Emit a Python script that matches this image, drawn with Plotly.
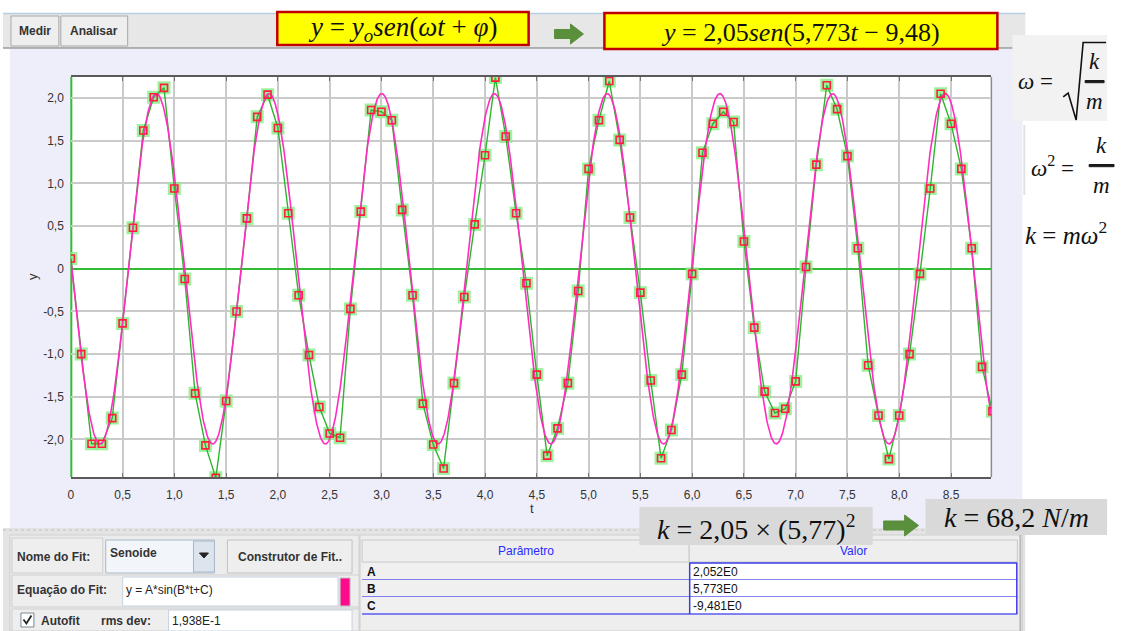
import numpy as np
import plotly.graph_objects as go

W, H = 1137, 631

# ---------------- data ----------------
t_vals = [0.0, 0.1, 0.2, 0.3, 0.4, 0.5, 0.6, 0.7, 0.8, 0.9,
          1.0, 1.1, 1.2, 1.3, 1.4, 1.5, 1.6, 1.7, 1.8, 1.9,
          2.0, 2.1, 2.2, 2.3, 2.4, 2.5, 2.6, 2.7, 2.8, 2.9,
          3.0, 3.1, 3.2, 3.3, 3.4, 3.5, 3.6, 3.7, 3.8, 3.9,
          4.0, 4.1, 4.2, 4.3, 4.4, 4.5, 4.6, 4.7, 4.8, 4.9,
          5.0, 5.1, 5.2, 5.3, 5.4, 5.5, 5.6, 5.7, 5.8, 5.9,
          6.0, 6.1, 6.2, 6.3, 6.4, 6.5, 6.6, 6.7, 6.8, 6.9,
          7.0, 7.1, 7.2, 7.3, 7.4, 7.5, 7.6, 7.7, 7.8, 7.9,
          8.0, 8.1, 8.2, 8.3, 8.4, 8.5, 8.6, 8.7, 8.8, 8.9]
y_vals = [0.12, -1.00, -2.05, -2.05, -1.75, -0.64, 0.48, 1.62, 2.01, 2.12,
          0.94, -0.12, -1.46, -2.07, -2.45, -1.55, -0.50, 0.59, 1.78, 2.04,
          1.65, 0.65, -0.31, -1.01, -1.62, -1.93, -1.98, -0.47, 0.67, 1.86,
          1.84, 1.74, 0.69, -0.31, -1.58, -2.06, -2.34, -1.34, -0.33, 0.52,
          1.33, 2.24, 1.55, 0.65, -0.17, -1.24, -2.19, -1.87, -1.34, -0.26,
          1.17, 1.74, 2.20, 1.51, 0.60, -0.28, -1.31, -2.22, -1.89, -1.24,
          -0.06, 1.36, 1.70, 1.84, 1.72, 0.32, -0.69, -1.44, -1.69, -1.64,
          -1.32, 0.02, 1.22, 2.15, 1.87, 1.32, 0.24, -1.13, -1.72, -2.23,
          -1.72, -1.00, -0.06, 0.94, 2.05, 1.70, 1.17, 0.24, -1.15, -1.67]

fit_A, fit_B, fit_C = 2.052, 5.773, -9.481

x_tick_vals = [0, 0.5, 1.0, 1.5, 2.0, 2.5, 3.0, 3.5, 4.0, 4.5, 5.0, 5.5, 6.0, 6.5, 7.0, 7.5, 8.0, 8.5]
x_tick_text = ["0", "0,5", "1,0", "1,5", "2,0", "2,5", "3,0", "3,5", "4,0", "4,5",
               "5,0", "5,5", "6,0", "6,5", "7,0", "7,5", "8,0", "8,5"]
y_tick_vals = [-2.0, -1.5, -1.0, -0.5, 0, 0.5, 1.0, 1.5, 2.0]
y_tick_text = ["-2,0", "-1,5", "-1,0", "-0,5", "0", "0,5", "1,0", "1,5", "2,0"]

param_names = ["A", "B", "C"]
param_values = ["2,052E0", "5,773E0", "-9,481E0"]

# ---------------- helpers ----------------
def px(x):
    return x / W

def py(y):
    return 1 - y / H

shapes = []
annotations = []

def rect(x0, y0, x1, y1, fill, line=None, lw=1, layer="below"):
    shapes.append(dict(type="rect", xref="paper", yref="paper",
                       x0=px(x0), x1=px(x1), y0=py(y1), y1=py(y0),
                       fillcolor=fill,
                       line=dict(color=line if line else fill, width=lw if line else 0),
                       layer=layer))

def hline(x0, x1, y, color, lw=1, dash=None, layer="below"):
    d = dict(color=color, width=lw)
    if dash:
        d["dash"] = dash
    shapes.append(dict(type="line", xref="paper", yref="paper",
                       x0=px(x0), x1=px(x1), y0=py(y), y1=py(y), line=d, layer=layer))

def vline(x, y0, y1, color, lw=1, layer="below"):
    shapes.append(dict(type="line", xref="paper", yref="paper",
                       x0=px(x), x1=px(x), y0=py(y0), y1=py(y1),
                       line=dict(color=color, width=lw), layer=layer))

def path(points, fill=None, color="black", lw=1, closed=True, layer="above"):
    s = "M " + " L ".join(f"{px(a):.5f},{py(b):.5f}" for a, b in points)
    if closed:
        s += " Z"
    d = dict(type="path", xref="paper", yref="paper", path=s,
             line=dict(color=color, width=lw), layer=layer)
    if fill:
        d["fillcolor"] = fill
    shapes.append(d)

def text(x, y, s, size=12, color="#222222", family="Liberation Sans",
         xanchor="left", yanchor="middle", angle=0):
    annotations.append(dict(xref="paper", yref="paper", x=px(x), y=py(y), text=s,
                            showarrow=False, xanchor=xanchor, yanchor=yanchor,
                            textangle=angle, borderpad=0,
                            font=dict(size=size, color=color, family=family)))

SERIF = "Liberation Serif"

# ---------------- background panels ----------------
# toolbar
rect(0, 13, 1025, 48, "#E7E7E7")
hline(0, 1025, 13.5, "#B9CDE2", 1.5)
hline(0, 1025, 48, "#9A9A9A", 1.5)
rect(8, 16, 56, 46, "#EEEEEE", "#A8A8A8", 1)
rect(58, 16, 125, 46, "#EEEEEE", "#A8A8A8", 1)
text(32, 31, "<b>Medir</b>", 12, "#333333", xanchor="center")
text(91.5, 31, "<b>Analisar</b>", 12, "#333333", xanchor="center")

# lavender panel
rect(7, 49, 1022, 528, "#EEEEFA")
# plot area
rect(68, 77, 991, 477, "#FFFFFF")
vline(991, 77, 477, "#8C8C8C", 1.5)
vline(68.5, 77, 477, "#33BB33", 2)

# bottom panel
rect(0, 528, 1025, 631, "#E4E4E4")
hline(0, 1025, 530, "#C0C0C0", 1, dash="dot")
rect(7, 535, 357, 631, "#ECECEC", "#D0D0D0", 1)
# row 1
rect(9, 538, 100, 573, "#EEEEEE", "#CFCFCF", 1)
text(13, 557, "<b>Nome do Fit:</b>", 12, "#333333")
rect(103, 540, 212, 573, "#F2F5F9", "#A9B7C8", 1)
rect(191, 541, 212, 572, "#DCE4EE", "#A9B7C8", 1)
path([(197, 553), (206, 553), (201.5, 558)], fill="#222222", color="#222222", lw=1)
text(106, 553, "<b>Senoide</b>", 12, "#333333")
rect(225, 540, 350, 573, "#EEEEEE", "#C2C2C2", 1)
text(287.5, 557, "<b>Construtor de Fit..</b>", 12, "#333333", xanchor="center")
# row 2
rect(9, 575, 357, 607, "#EEEEEE", "#CFCFCF", 1)
text(13, 590, "<b>Equação do Fit:</b>", 12, "#333333")
rect(120, 577, 336, 606, "#FFFFFF", "#C8D2DE", 1)
text(122, 590, "y = A*sin(B*t+C)", 12, "#222222")
rect(338, 578, 348, 606, "#FF0A8C", "#C0C0C0", 1)
# row 3
rect(9, 609, 357, 631, "#EEEEEE", "#CFCFCF", 1)
rect(18, 613, 31, 627, "#FFFFFF", "#7A8A9A", 1)
path([(20.5, 619.5), (23.5, 623.5), (28.5, 615.5)], color="#222222", lw=1.8, closed=False)
text(37, 621, "<b>Autofit</b>", 12, "#333333")
text(97, 621, "<b>rms dev:</b>", 12, "#333333")
rect(166, 610, 350, 631, "#FFFFFF", "#C8D2DE", 1)
text(168, 621, "1,938E-1", 12, "#222222")

# table panel
rect(358, 535, 1022, 631, "#EEEEEE", "#CFCFCF", 1)
rect(360, 540, 688, 562, "#EEEEEE", "#C8C8C8", 1)
rect(688, 540, 1017, 562, "#EEEEEE", "#C8C8C8", 1)
text(524, 551, "Parâmetro", 12, "#2A2AFF", xanchor="center")
text(853, 551, "Valor", 12, "#2A2AFF", xanchor="center")
row_tops = [563, 580, 597]
for i, (nm, val) in enumerate(zip(param_names, param_values)):
    y0 = row_tops[i]
    y1 = y0 + 17
    rect(360, y0, 688, y1, "#F0F0F0")
    rect(688, y0, 1017, y1, "#FFFFFF")
    text(364, y0 + 8.5, f"<b>{nm}</b>", 12, "#111111")
    text(691, y0 + 8.5, val, 12, "#111111")
    hline(360, 1017, y1, "#5A5AF0", 1.5)
vline(688.5, 563, 614, "#3A3AE8", 1.5)
vline(1016.5, 563, 614, "#3A3AE8", 1.5)
hline(688, 1017, 563, "#3A3AE8", 1.5)
vline(1020, 535, 631, "#BBBBBB", 2)

# ---------------- formula overlays ----------------
rect(275, 12, 527, 45, "#FFFF00", "#C00000", 2.5, layer="above")
text(401, 29, "<i>y</i> = <i>y<sub>o</sub>sen</i>(<i>ωt</i> + <i>φ</i>)", 27, "#111111",
     family=SERIF, xanchor="center")
path([(553, 29.5), (569, 29.5), (569, 24), (582, 34), (569, 44), (569, 38.5), (553, 38.5)],
     fill="#5A8F3C", color="#5A8F3C", lw=1)
rect(603, 13, 997, 49, "#FFFF00", "#C00000", 2.5, layer="above")
text(800, 32, "<i>y</i> = 2,05<i>sen</i>(5,773<i>t</i> − 9,48)", 26, "#111111",
     family=SERIF, xanchor="center")

rect(638, 507, 872, 545, "#D9D9D9", layer="above")
text(755, 527, "<i>k</i> = 2,05 × (5,77)<sup>2</sup>", 28, "#111111", family=SERIF, xanchor="center")
path([(883, 521), (904, 521), (904, 515), (918, 525.5), (904, 536), (904, 530), (883, 530)],
     fill="#5A8F3C", color="#5A8F3C", lw=1)
rect(925, 499, 1107, 535, "#D9D9D9", layer="above")
text(1016, 517, "<i>k</i> = 68,2 <i>N</i>/<i>m</i>", 28, "#111111", family=SERIF, xanchor="center")

# right-side formulas
rect(1012, 35, 1107, 121, "#F2F2F2", layer="above")
text(1017, 82, "<i>ω</i> =", 23, "#111111", family=SERIF)
path([(1063, 97), (1068, 93), (1076, 120), (1083, 42.5), (1106, 42.5)], color="#111111",
     lw=1.6, closed=False)
text(1094, 61, "<i>k</i>", 23, "#111111", family=SERIF, xanchor="center")
text(1094, 101, "<i>m</i>", 23, "#111111", family=SERIF, xanchor="center")
vline(1024, 125, 195, "#E2E2E2", 2, layer="above")
text(1030, 166, "<i>ω</i><sup>2</sup> =", 23, "#111111", family=SERIF)
text(1101, 145, "<i>k</i>", 23, "#111111", family=SERIF, xanchor="center")
text(1101, 185, "<i>m</i>", 23, "#111111", family=SERIF, xanchor="center")
text(1024, 233, "<i>k</i> = <i>mω</i><sup>2</sup>", 25, "#111111", family=SERIF)

# fraction bars drawn last (on top of all other shapes)
path([(1085, 80.5), (1104, 80.5), (1104, 82.7), (1085, 82.7)], fill="#1A1A1A", color="#1A1A1A", lw=1)
path([(1089, 164.5), (1114, 164.5), (1114, 166.7), (1089, 166.7)], fill="#1A1A1A", color="#1A1A1A", lw=1)

# axis titles
text(29, 276, "y", 13, "#333333", angle=-90, xanchor="center")
text(530, 508, "t", 13, "#333333", xanchor="center")

# ---------------- traces ----------------
t_fit = np.linspace(0, 8.9, 1500)
y_fit = fit_A * np.sin(fit_B * t_fit + fit_C)

fig = go.Figure()
fig.add_trace(go.Scatter(x=t_vals, y=y_vals, mode="markers", hoverinfo="skip",
                         marker=dict(symbol="square", size=13, color="rgba(140,240,140,0.85)",
                                     line=dict(width=0)), showlegend=False))
fig.add_trace(go.Scatter(x=t_vals, y=y_vals, mode="lines",
                         line=dict(color="#2DB52D", width=1.4), showlegend=False))
fig.add_trace(go.Scatter(x=t_fit, y=y_fit, mode="lines",
                         line=dict(color="#FF2CC0", width=1.6), showlegend=False))
fig.add_trace(go.Scatter(x=t_vals, y=y_vals, mode="markers",
                         marker=dict(symbol="square-open", size=7, color="#FF1E3C",
                                     line=dict(width=1.6, color="#FF1E3C")),
                         showlegend=False))

fig.update_layout(
    width=W, height=H,
    margin=dict(l=0, r=0, t=0, b=0),
    paper_bgcolor="#FFFFFF",
    plot_bgcolor="#FFFFFF",
    showlegend=False,
    shapes=shapes,
    annotations=annotations,
    xaxis=dict(domain=[68 / W, 991 / W], range=[0, 8.89],
               tickvals=x_tick_vals, ticktext=x_tick_text,
               showgrid=True, gridcolor="#CACACA", gridwidth=1.5,
               zeroline=False,
               showline=True, linecolor="#5A5A5A", linewidth=1.5, mirror="ticks",
               ticks="inside", ticklen=4, tickcolor="#777777", tickwidth=1.2,
               ticklabelstandoff=6,
               tickfont=dict(family="Liberation Sans", size=12, color="#333333")),
    yaxis=dict(domain=[1 - 477 / H, 1 - 77 / H], range=[-2.44, 2.247],
               tickvals=y_tick_vals, ticktext=y_tick_text,
               showgrid=True, gridcolor="#CACACA", gridwidth=1.5,
               zeroline=True, zerolinecolor="#33BB33", zerolinewidth=1.5,
               showline=False, ticks="",
               ticklabelstandoff=6,
               tickfont=dict(family="Liberation Sans", size=12, color="#333333")),
)

fig.write_html("out.html")
